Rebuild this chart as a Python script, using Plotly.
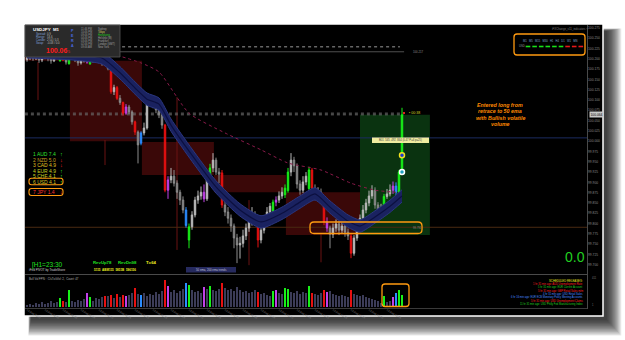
import plotly.graph_objects as go

W, H = 625, 340

# ---------------- DATA ----------------
opens = [100.198,100.202,100.205,100.200,100.207,100.197,100.202,100.205,100.200,100.195,
         100.202,100.195,100.210,100.197,100.188,100.208,100.207,100.197,100.190,100.195,
         100.200,100.188,100.198,100.197,100.202,100.195,100.196,100.186,100.176,100.120,
         100.130,100.104,100.094,100.068,100.083,100.071,100.047,100.022,99.995,100.020,
         100.032,100.095,100.100,100.088,100.076,100.064,100.039,99.881,99.906,99.915,
         99.898,99.876,99.857,99.833,99.760,99.792,99.821,99.857,99.867,99.876,
         99.860,99.905,99.935,99.954,99.925,99.923,99.845,99.828,99.813,99.794,
         99.765,99.748,99.752,99.770,99.789,99.804,99.823,99.813,99.760,99.784,
         99.808,99.828,99.830,99.852,99.857,99.867,99.870,99.880,99.925,99.954,
         99.940,99.896,99.881,99.901,99.885,99.930,99.886,99.869,99.876,99.857,
         99.804,99.789,99.774,99.789,99.799,99.784,99.794,99.779,99.770,99.728,
         99.765,99.794,99.813,99.833,99.850,99.867,99.881,99.845,99.828,99.830,
         99.866,99.872,99.881,99.891,99.876,99.925]
highs = [100.209,100.212,100.210,100.214,100.209,100.207,100.212,100.208,100.204,100.209,
         100.214,100.216,100.213,100.201,100.214,100.213,100.210,100.200,100.201,100.207,
         100.205,100.203,100.204,100.207,100.205,100.199,100.200,100.192,100.178,100.137,
         100.134,100.112,100.096,100.090,100.088,100.075,100.050,100.026,100.024,100.045,
         100.100,100.107,100.104,100.092,100.083,100.070,100.042,99.915,99.935,99.930,
         99.905,99.882,99.866,99.840,99.800,99.830,99.865,99.880,99.890,99.895,
         99.918,99.945,99.971,99.960,99.935,99.930,99.855,99.840,99.822,99.800,
         99.775,99.768,99.785,99.800,99.815,99.840,99.830,99.818,99.792,99.815,
         99.840,99.850,99.858,99.866,99.878,99.888,99.895,99.935,99.971,99.962,
         99.946,99.905,99.915,99.925,99.938,99.935,99.895,99.888,99.885,99.862,
         99.815,99.795,99.800,99.810,99.806,99.805,99.800,99.788,99.775,99.772,
         99.800,99.822,99.845,99.860,99.880,99.893,99.888,99.852,99.848,99.872,
         99.884,99.895,99.902,99.900,99.930,100.081]
lows = [100.193,100.197,100.195,100.197,100.190,100.192,100.199,100.194,100.188,100.192,
        100.199,100.193,100.194,100.186,100.186,100.200,100.192,100.183,100.186,100.191,
        100.188,100.185,100.190,100.193,100.189,100.183,100.183,100.172,100.115,100.112,
        100.100,100.088,100.062,100.064,100.066,100.040,100.015,99.946,99.990,100.014,
        100.028,100.088,100.080,100.068,100.056,100.030,99.876,99.860,99.898,99.890,
        99.860,99.845,99.825,99.790,99.740,99.785,99.815,99.848,99.858,99.852,
        99.855,99.900,99.925,99.918,99.898,99.838,99.818,99.800,99.780,99.740,
        99.704,99.715,99.742,99.760,99.780,99.795,99.800,99.742,99.752,99.776,
        99.800,99.818,99.826,99.842,99.850,99.860,99.862,99.875,99.915,99.925,
        99.885,99.870,99.874,99.893,99.880,99.880,99.860,99.862,99.848,99.796,
        99.780,99.740,99.765,99.780,99.772,99.775,99.768,99.760,99.716,99.722,
        99.758,99.786,99.806,99.825,99.842,99.860,99.836,99.820,99.818,99.826,
        99.860,99.866,99.872,99.868,99.870,99.920]
closes = [100.202,100.205,100.200,100.207,100.197,100.202,100.205,100.200,100.195,100.202,
          100.205,100.210,100.197,100.192,100.208,100.207,100.197,100.190,100.195,100.200,
          100.192,100.198,100.197,100.202,100.195,100.190,100.186,100.176,100.120,100.130,
          100.104,100.094,100.068,100.083,100.071,100.047,100.022,99.991,100.020,100.032,
          100.095,100.100,100.088,100.076,100.064,100.039,99.881,99.906,99.915,99.898,
          99.876,99.857,99.833,99.795,99.792,99.821,99.857,99.867,99.876,99.860,
          99.910,99.935,99.954,99.925,99.920,99.845,99.828,99.813,99.794,99.765,
          99.748,99.752,99.770,99.789,99.804,99.823,99.813,99.760,99.784,99.808,
          99.828,99.842,99.852,99.857,99.867,99.876,99.886,99.925,99.954,99.940,
          99.896,99.881,99.901,99.915,99.930,99.886,99.869,99.876,99.857,99.804,
          99.789,99.774,99.789,99.799,99.784,99.794,99.779,99.770,99.728,99.765,
          99.794,99.813,99.833,99.850,99.867,99.881,99.845,99.828,99.838,99.866,
          99.872,99.881,99.891,99.876,99.925,100.064]
tick_volume = [58,87,58,116,87,145,87,116,174,116,
               145,261,174,145,493,174,145,203,174,232,
               406,290,174,261,232,290,319,319,348,261,
               377,290,348,319,348,406,551,377,348,406,
               319,377,348,435,377,464,783,609,435,493,
               406,464,522,696,638,493,435,464,406,580,
               522,609,493,464,522,696,551,493,522,464,
               580,493,435,464,406,435,493,435,377,406,
               348,319,464,493,406,377,551,522,435,406,
               464,377,435,406,609,406,377,348,406,493,
               435,464,377,348,319,348,319,290,493,377,
               348,319,348,290,261,232,203,174,116,319,
               145,174,290,406,493,348]
# volume-spread signal per bar: n normal, r bear climax, g bull climax, m churn, b stopping
vsa_signal = ("nnnnnnnnnn" "ngrngnnnnn" "mgnnnnrnrn" "rnrmnnrnbn" "nnnnnnrmnn"
              "nnnbgnnnnm" "ngnnnrnnnn" "nnnnnnnrnn" "nngmnnggnn" "nnnngrnnnr"
              "mnnnnnnnrn" "nnnnnnnnng" "nnmbgg")

# 50 EMA envelope (high / low) and 200 EMA
ema_idx = [0,15,25,31,36,40,44,48,55,63,71,78,85,91,96,101,107,111,116,121,125]
ema50_high = [100.232,100.227,100.217,100.181,100.144,100.117,100.105,100.054,99.981,99.904,
              99.848,99.819,99.840,99.867,99.887,99.855,99.821,99.809,99.831,99.857,99.882]
ema50_mid = [100.217,100.212,100.202,100.166,100.129,100.102,100.090,100.039,99.966,99.889,
             99.833,99.804,99.825,99.852,99.872,99.840,99.806,99.794,99.816,99.842,99.867]
ema50_low = [100.202,100.197,100.187,100.151,100.114,100.087,100.075,100.024,99.951,99.874,
             99.818,99.789,99.810,99.837,99.857,99.825,99.791,99.779,99.801,99.827,99.852]
ema200_idx = [26,38,44,54,66,78,87,98,108,116,123]
ema200 = [100.217,100.190,100.168,100.068,100.020,99.979,99.947,99.930,99.898,99.881,99.876]

# supply zones (bar index range, price range)
zone_start = [-0.7, 14.3, 38.3, 62.3, 86.3]
zone_end = [14.3, 38.3, 62.3, 86.3, 111.0]
zone_top = [100.214, 100.195, 99.998, 99.918, 99.876]
zone_bottom = [100.195, 100.000, 99.918, 99.876, 99.772]
trade_zone = [111.0, 134.3, 100.064, 99.772]   # start, end, top, bottom

# horizontal levels
level_dotted_top = 100.229
level_top = 100.217
level_bid = 100.064
level_ask = 100.068
level_navy = 100.008
level_brown = 99.791
session_idx = [3.67, 26, 50, 74, 98]
session_top = [100.192, 100.003, 100.107, 99.857, 99.777]
session_bottom = [100.100, 99.942, 99.736, 99.699, 99.706]

entry_idx = [125, 125]
entry_price = [99.966, 99.925]

price_ticks = [99.700,99.725,99.750,99.775,99.800,99.825,99.850,99.875,99.900,99.925,
               99.950,99.975,100.000,100.025,100.050,100.075,100.100,100.125,100.150,
               100.175,100.200,100.225,100.250,100.275]
time_tick_idx = [0,6,12,18,24,30,36,42,48,54,60,66,72,78,84,90,96,102,108,114,120]
time_tick_labels = ["14 Aug 2013","14 Aug 08:52","14 Aug 08:58","14 Aug 09:04","14 Aug 09:10",
                    "14 Aug 09:16","14 Aug 09:22","14 Aug 09:28","14 Aug 09:34","14 Aug 09:40",
                    "14 Aug 09:46","14 Aug 09:52","14 Aug 09:58","14 Aug 10:04","14 Aug 10:10",
                    "14 Aug 10:16","14 Aug 10:22","14 Aug 10:28","14 Aug 10:34","14 Aug 10:40",
                    "14 Aug 10:46"]

currencies = ["AUD", "NZD", "CAD", "EUR", "CHF", "USD", "JPY"]
strength = [7.4, 5.0, 4.9, 4.9, 4.1, 4.1, 1.4]
direction = ["up", "down", "down", "up", "up", "up", "down"]

tf_labels = ["M1", "M5", "M15", "M30", "H1", "H4", "D1", "W1", "MN"]
tf_trend = ["up", "up", "up", "up", "up", "up", "down", "down", "down"]

session_names = ["Sydney", "Tokyo", "Hongkong", "Helsinki (M)", "Frankfurt", "London (GMT)", "New York"]
session_times = ["11:46 PM", "10:46 PM", "09:46 PM", "04:46 PM", "03:46 PM", "02:46 PM", "09:46 AM"]

releases = ["1 hr 31 min ago: AUD Unemployment Rate",
            "5 hr 31 min ago: EUR Current Account",
            "5 hr 31 min ago: GBP Retail Sales m/m",
            "4 hr 31 min ago: USD Retail Sales",
            "6 hr 16 min ago: EUR ECB Monetary Policy Meeting Accounts",
            "5 hr 31 min ago: USD Unemployment Claims",
            "11 hr 31 min ago: USD Philly Fed Manufacturing Index"]
release_impact = ["high", "medium", "high", "low", "low", "high", "medium"]

# ---------------- STYLE / GEOMETRY ----------------
FONT = "Liberation Sans, Arial, sans-serif"
X_L, X_R = 25, 587
P_T, P_B = 25, 273
V_T, V_B = 276, 307
SIG_COL = {"r": "#e81010", "g": "#18f018", "m": "#c040e8", "b": "#2a8cff"}


def px(x):
    return x / W


def py(y):
    return 1 - y / H


shapes = []
annots = []


def rect(x0, y0, x1, y1, fill, line=None, lw=0, layer="below", opacity=1.0):
    shapes.append(dict(type="rect", xref="paper", yref="paper",
                       x0=px(x0), x1=px(x1), y0=py(y1), y1=py(y0),
                       fillcolor=fill, opacity=opacity, layer=layer,
                       line=dict(color=line or fill, width=lw)))


def rrect(x0, y0, x1, y1, r, color, lw=1.2, fill="rgba(0,0,0,0)"):
    pts = [("M", x0 + r, y0), ("L", x1 - r, y0), ("Q", x1, y0, x1, y0 + r), ("L", x1, y1 - r),
           ("Q", x1, y1, x1 - r, y1), ("L", x0 + r, y1), ("Q", x0, y1, x0, y1 - r),
           ("L", x0, y0 + r), ("Q", x0, y0, x0 + r, y0)]
    p = ""
    for seg in pts:
        cmd = seg[0]
        coords = seg[1:]
        parts = []
        for k in range(0, len(coords), 2):
            parts.append(f"{px(coords[k]):.5f},{py(coords[k+1]):.5f}")
        p += cmd + " " + " ".join(parts) + " "
    p += "Z"
    shapes.append(dict(type="path", xref="paper", yref="paper", path=p, layer="above",
                       fillcolor=fill, line=dict(color=color, width=lw)))


def hline(x0, x1, y, color, width=1, dash="solid", layer="above"):
    shapes.append(dict(type="line", xref="paper", yref="paper", x0=px(x0), x1=px(x1),
                       y0=py(y), y1=py(y), layer=layer, line=dict(color=color, width=width, dash=dash)))


def txt(x, y, s, size, color, anchor="left", bg=None, font=FONT):
    a = dict(x=px(x), y=py(y), xref="paper", yref="paper", text=s, showarrow=False,
             xanchor=anchor, yanchor="middle", font=dict(size=size, color=color, family=font))
    if bg:
        a["bgcolor"] = bg
        a["borderpad"] = 0
    annots.append(a)


# shadow + frame
for k in range(14):
    rect(31 - k * 0.2, 31 - k * 0.2, 607 + k * 1.1, 320 + k * 1.2, "black", opacity=0.09)
rect(24, 24, 603, 316, "black", line="white", lw=1.5)

# data-space zones
for x0, x1, t, b in zip(zone_start, zone_end, zone_top, zone_bottom):
    shapes.append(dict(type="rect", xref="x", yref="y", x0=x0, x1=x1, y0=b, y1=t, layer="below",
                       fillcolor="#3a0808", line=dict(width=0)))
shapes.append(dict(type="rect", xref="x", yref="y", x0=trade_zone[0], x1=trade_zone[1],
                   y0=trade_zone[3], y1=trade_zone[2], layer="below",
                   fillcolor="#0a3310", line=dict(width=0)))
for sx, st, sb in zip(session_idx, session_top, session_bottom):
    shapes.append(dict(type="line", xref="x", yref="y", x0=sx, x1=sx, y0=sb, y1=st, layer="below",
                       line=dict(color="#6a1212", width=1)))


def level(price, x0, x1, color, dash="solid", width=1):
    shapes.append(dict(type="line", xref="x", yref="y", x0=x0, x1=x1, y0=price, y1=price,
                       layer="below", line=dict(color=color, width=width, dash=dash)))


level(level_navy, -0.7, 186.7, "#1c2c60")
level(level_brown, -0.7, 186.7, "#4a2a12")
level(level_ask, -0.7, 125.5, "#6a6a6a", "dot")
level(level_bid, -0.7, 125.5, "#6a6a6a", "dot")
level(level_top, 25.7, 125.7, "#505050")
level(level_dotted_top, 31.7, 124.3, "#9a9a9a", "dot")

fig = go.Figure()

# 50 EMA band
band_line = dict(color="#2a3680", width=1, shape="spline", smoothing=0.6)
fig.add_trace(go.Scatter(x=ema_idx, y=ema50_low, mode="lines", line=band_line,
                         hoverinfo="skip", showlegend=False))
fig.add_trace(go.Scatter(x=ema_idx, y=ema50_high, mode="lines", line=band_line,
                         fill="tonexty", fillcolor="#1a2260", hoverinfo="skip", showlegend=False))
fig.add_trace(go.Scatter(x=ema_idx, y=ema50_mid, mode="lines",
                         line=dict(color="#0c1040", width=1.2, shape="spline", smoothing=0.6),
                         hoverinfo="skip", showlegend=False))
# 200 EMA
fig.add_trace(go.Scatter(x=ema200_idx, y=ema200, mode="lines",
                         line=dict(color="#8a1a4a", width=1, dash="dot", shape="spline", smoothing=0.6),
                         hoverinfo="skip", showlegend=False))

# candles
n = len(closes)
groups = {"n": [i for i in range(n) if vsa_signal[i] == "n"]}
for key in "rgmb":
    groups[key] = [i for i in range(n) if vsa_signal[i] == key]

idx = groups["n"]
fig.add_trace(go.Candlestick(x=idx, open=[opens[i] for i in idx], high=[highs[i] for i in idx],
                             low=[lows[i] for i in idx], close=[closes[i] for i in idx],
                             increasing=dict(line=dict(color="#b4b4b4", width=1), fillcolor="#e6e6e6"),
                             decreasing=dict(line=dict(color="#8c8c8c", width=1), fillcolor="#6c6c6c"),
                             whiskerwidth=0, showlegend=False, hoverinfo="skip"))
for key in "rgmb":
    idx = groups[key]
    c = SIG_COL[key]
    fig.add_trace(go.Candlestick(x=idx, open=[opens[i] for i in idx], high=[highs[i] for i in idx],
                                 low=[lows[i] for i in idx], close=[closes[i] for i in idx],
                                 increasing=dict(line=dict(color=c, width=1), fillcolor=c),
                                 decreasing=dict(line=dict(color=c, width=1), fillcolor=c),
                                 whiskerwidth=0, showlegend=False, hoverinfo="skip"))

# entry markers
fig.add_trace(go.Scatter(x=entry_idx[:1], y=entry_price[:1], mode="markers",
                         marker=dict(size=5, color="#1a3ad0", line=dict(color="#f0e020", width=1.5)),
                         hoverinfo="skip", showlegend=False))
fig.add_trace(go.Scatter(x=entry_idx[1:], y=entry_price[1:], mode="markers",
                         marker=dict(size=5, color="#20a0c0", line=dict(color="#ffffff", width=1.5)),
                         hoverinfo="skip", showlegend=False))

# volume
vcol = [SIG_COL.get(s, "#3c3c58") for s in vsa_signal]
fig.add_trace(go.Bar(x=list(range(n)), y=tick_volume, marker=dict(color=vcol, line=dict(width=0)),
                     width=0.6, xaxis="x2", yaxis="y2", hoverinfo="skip", showlegend=False))

# ---------- overlay decorations ----------
hline(X_L, X_R, 274.5, "#4a4a4a")
hline(X_L, X_R, 308.5, "#3a3a3a")
shapes.append(dict(type="line", xref="paper", yref="paper", x0=px(587.5), x1=px(587.5),
                   y0=py(309), y1=py(25), layer="above", line=dict(color="#4a4a4a", width=1)))

# info box
rect(25, 25, 120, 57, "#2a2a2a", line="#555555", lw=0.8, layer="above")
txt(31, 29.5, "<b>USDJPY  M1</b>", 4.4, "#ffffff")
info_labels = ["Spread:", "Range:", "Candle:", "Swap:"]
info_values = ["0.9", "53.6", "2:54 / 0.3", "-0.08 / 0.0"]
for k, (lab, val) in enumerate(zip(info_labels, info_values)):
    txt(34, 34.3 + k * 3.0, lab, 2.8, "#7f9fd8")
    txt(45, 34.3 + k * 3.0, val, 2.8, "#bcbcbc")
txt(44, 50.5, "<b>100.06</b>", 7, "#ff1a1a")
txt(66, 51.5, "5", 3.5, "#ff1a1a")
for k, ch in enumerate("PERA"):
    txt(72.5, 31 + k * 5, "<b>" + ch + "</b>", 3.6, "#4a6ae0", anchor="center")
name_cols = ["#a0a0a0", "#d8d060", "#20d020", "#a0a0a0", "#a0a0a0", "#a0a0a0", "#a0a0a0"]
for k, (tm, nm) in enumerate(zip(session_times, session_names)):
    txt(79, 28.5 + k * 3.1, tm, 2.6, "#9a9a9a")
    txt(96, 28.5 + k * 3.1, nm, 2.6, name_cols[k])

# top-right timeframe box
txt(590, 28.5, "iFXChange_v11_indicators \u25a1", 2.8, "#7a7a7a", anchor="right")
rrect(514, 34, 585, 55, 3, "#ff9a10", 1.3)
txt(549.5, 40.5, "   ".join(tf_labels), 2.7, "#7ea0c8", anchor="center")
txt(516.5, 46.5, "USD", 2.7, "#9a9a9a")
for k, tr in enumerate(tf_trend):
    cx = 528 + k * 6.6
    rect(cx - 2.3, 45.7, cx + 2.3, 47.3, "#18e018" if tr == "up" else "#e81818", layer="above")

# currency strength table
cur_col = ["#30e030", "#c8a020", "#e0c020", "#c8d020", "#c8d020", "#d8c020", "#ff3030"]
cur_y = [154, 159.5, 165, 170.5, 176, 181.5, 192]
for k, (cn, sv, d) in enumerate(zip(currencies, strength, direction)):
    txt(31, cur_y[k], f"{k+1} {cn} {sv:.1f}", 5, cur_col[k])
    txt(58, cur_y[k], "\u2191" if d == "up" else "\u2193", 5.5,
        "#30f030" if d == "up" else "#ff2020")
rrect(29, 178.3, 63, 184.8, 2.5, "#ff9a10", 1.1)
rrect(29, 188.5, 63, 195.5, 2.5, "#ff9a10", 1.1)

# bottom-left labels
txt(30, 264.5, "[H1=23:30", 6.5, "#20e020")
txt(27, 269.5, "iFed PIVOT by TradeShore", 3, "#d0d0d0")
txt(91, 262, "<b>RevUp78</b>", 4.3, "#20e020")
txt(116, 262, "<b>RevDn98</b>", 4.3, "#20e020")
txt(144, 262, "<b>T=64</b>", 4.3, "#f0f020")
txt(92, 270, "<b>5115  ABM115  5851B  596156</b>", 3, "#f0f020")
rect(186, 267, 236, 272.5, "#262a5e", layer="above")
txt(211, 269.7, "50 ema, 200 ema trends", 2.8, "#c0c0d8", anchor="center")

# big 0.0
txt(575, 257, "0.0", 14, "#20d020", anchor="center")

# trade annotations
txt(500, 104.5, "<b><i>Entered long from</i></b>", 5.3, "#ff8a00", anchor="center")
txt(500, 111, "<b><i>retrace to 50 ema</i></b>", 5.3, "#ff8a00", anchor="center")
txt(500, 117.5, "<b><i>with Bullish volatile</i></b>", 5.3, "#ff8a00", anchor="center")
txt(500, 124, "<b><i>volume</i></b>", 5.3, "#ff8a00", anchor="center")
rect(372, 137.5, 429, 143, "#f0eca0", layer="above")
txt(400.5, 140.3, "B01 .545 .492 .844 (0.47 P=4 p=25)", 2.7, "#404040", anchor="center")
rect(403, 112, 405, 114, "#e02020", layer="above")
txt(407, 113.2, "\u25aa 00:38", 3.6, "#d8d820")
txt(411, 52, f"{level_top:.3f}", 2.8, "#8a8a8a")

# orange boxes
rrect(310, 222, 422, 233.5, 4, "#ff9a10", 1.3)
txt(411, 228, f"{level_brown:.3f}", 2.8, "#8a8a8a")
rrect(382, 284, 409, 306.5, 3, "#ff9a10", 1.3)

# current price tag
annots.append(dict(x=px(588.5), y=level_bid, xref="paper", yref="y", text=f"{level_bid:.3f}",
                   showarrow=False, xanchor="left", yanchor="middle", bgcolor="#c8c8c8", borderpad=0.5,
                   font=dict(size=3.3, color="#000000", family=FONT)))

# volume panel labels
txt(27, 278.5, "Bull Vol FPN :  ClsTickVol: 2,  Count: 47", 2.8, "#b0b0b0")
txt(590, 278, "411", 2.6, "#7a7a7a")
txt(590, 305, "1", 2.6, "#7a7a7a")
txt(585, 280.5, "SCHEDULED RELEASES:", 2.8, "#e8e820", anchor="right")
imp_col = {"high": "#ff2020", "medium": "#20d020", "low": "#4a8cff"}
for k, (rl, im) in enumerate(zip(releases, release_impact)):
    txt(585, 284 + k * 3.3, rl, 2.6, imp_col[im], anchor="right")

fig.update_layout(
    width=W, height=H, margin=dict(l=0, r=0, t=0, b=0),
    paper_bgcolor="white", plot_bgcolor="black",
    showlegend=False, shapes=shapes, annotations=annots,
    xaxis=dict(domain=[px(X_L), px(X_R)], range=[-0.667, 186.667], showticklabels=False,
               showgrid=False, zeroline=False, rangeslider=dict(visible=False), anchor="y",
               showline=False, ticks=""),
    yaxis=dict(domain=[py(P_B), py(P_T)], range=[99.680, 100.282], side="right",
               tickvals=price_ticks, ticktext=[f"{v:.3f}" for v in price_ticks],
               tickfont=dict(size=3.3, color="#8a8a8a", family=FONT), showgrid=False,
               zeroline=False, ticks="", anchor="x", showline=False),
    xaxis2=dict(domain=[px(X_L), px(X_R)], range=[-0.667, 186.667], anchor="y2",
                tickvals=time_tick_idx, ticktext=time_tick_labels, showgrid=False, zeroline=False,
                tickfont=dict(size=2.8, color="#7a7a7a", family=FONT), ticks="", showline=False),
    yaxis2=dict(domain=[py(V_B), py(V_T)], range=[0, 900], showticklabels=False, showgrid=False,
                zeroline=False, anchor="x2", side="right"),
    bargap=0.3,
)

fig.write_html("out.html")
